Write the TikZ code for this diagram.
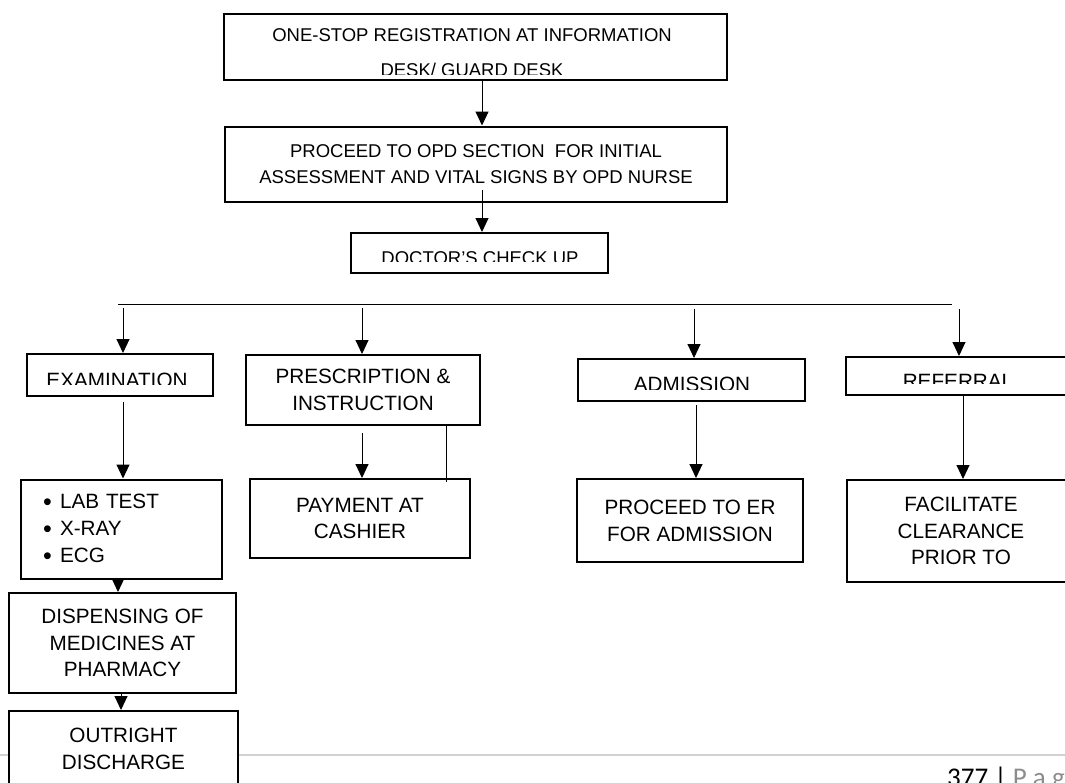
\documentclass[tikz,border=0pt]{standalone}
\usepackage{fontspec}
\setmainfont{Liberation Sans}
\newfontfamily\footfont{Carlito}
\usetikzlibrary{arrows.meta}
\begin{document}
\begin{tikzpicture}[x=1pt,y=-1pt,
  every node/.style={font=\fontsize{20.7}{26.8}\selectfont, inner sep=0pt},
  small/.style={font=\fontsize{18.5}{26}\selectfont},
  box/.style={draw, line width=2pt, fill=white, align=center},
  arr/.style={line width=1pt, -{Triangle[width=13pt,length=14pt]}},
  ln/.style={line width=1pt},
  clipped/.style={anchor=base}]
\useasboundingbox (0,0) rectangle (1065,782);
% footer rule
\coordinate (fl) at (0,755);
\coordinate (fr) at (1065,755);
\draw[black!18, line width=1.3pt] (fl) -- (fr);
\node[anchor=base west, font=\footfont\fontsize{27}{27}\selectfont] (pg) at (947,786) {377 | \textcolor{black!45}{P a g e}};

% boxes
\node[box, minimum width=503pt, minimum height=66pt] (b1) at (475.5,47) {};
\node[box, small, minimum width=502pt, minimum height=75pt] (b2) at (476,164)
  {PROCEED TO OPD SECTION\ \ FOR INITIAL\\ASSESSMENT AND VITAL SIGNS BY OPD NURSE};
\node[box, minimum width=257pt, minimum height=40pt] (doc) at (479.5,253) {};
\node[box, minimum width=186pt, minimum height=42pt] (exam) at (120,375) {};
\node[box, minimum width=234pt, minimum height=70pt] (presc) at (363,390)
  {PRESCRIPTION \&\\INSTRUCTION};
\node[box, minimum width=227pt, minimum height=42pt] (adm) at (691.5,380) {};
\node[box, minimum width=229pt, minimum height=38pt] (ref) at (960.5,376) {};
\node[box, minimum width=201pt, minimum height=99pt, text width=157pt, align=left, inner xsep=22pt] (lab) at (121.5,529)
  {\makebox[17pt][l]{\raisebox{-2.0pt}{\fontsize{25}{25}\selectfont •}}LAB TEST\\
   \makebox[17pt][l]{\raisebox{-2.0pt}{\fontsize{25}{25}\selectfont •}}X-RAY\\
   \makebox[17pt][l]{\raisebox{-2.0pt}{\fontsize{25}{25}\selectfont •}}ECG};
\node[box, minimum width=220pt, minimum height=79pt] (pay) at (360,518.5) {PAYMENT AT\\CASHIER};
\node[box, minimum width=226pt, minimum height=83pt] (er) at (690,520.5) {PROCEED TO ER\\FOR ADMISSION};
\node[box, minimum width=228pt, minimum height=102pt] (fac) at (961,531) {FACILITATE\\CLEARANCE\\PRIOR TO};
\node[box, minimum width=227pt, minimum height=100pt] (disp) at (122.5,643) {DISPENSING OF\\MEDICINES AT\\PHARMACY};
\node[box, minimum width=229pt, minimum height=75pt] (out) at (123.5,748.5) {OUTRIGHT\\DISCHARGE};

% clipped texts
\begin{scope}
  \clip (224,14) rectangle (727,74);
  \node[anchor=north, align=center, font=\fontsize{18.5}{35}\selectfont] (t1) at (472,28.5)
    {ONE-STOP REGISTRATION AT INFORMATION\\DESK/ GUARD DESK};
\end{scope}
\begin{scope}
  \clip (351,233) rectangle (608,261.5);
  \node[clipped, small] (tdoc) at (480,264.5) {DOCTOR’S CHECK UP};
\end{scope}
\begin{scope}
  \clip (27,354) rectangle (213,384.5);
  \node[clipped] (texam) at (117,387.5) {EXAMINATION};
\end{scope}
\begin{scope}
  \clip (578,359) rectangle (805,389);
  \node[clipped] (tadm) at (692,391.5) {ADMISSION};
\end{scope}
\begin{scope}
  \clip (846,357) rectangle (1075,383);
  \node[clipped] (tref) at (958,388) {REFERRAL};
\end{scope}

% connectors
\coordinate (s1) at (482,80);
\draw[arr] (s1) -- (s1 |- b2.north);
\coordinate (s2) at (482,190);
\draw[arr] (s2) -- (s2 |- doc.north);
\coordinate (hl) at (118,304);
\coordinate (hr) at (952,304);
\draw[ln] (hl) -- (hr);
\coordinate (s3) at (123,308);
\draw[arr] (s3) -- (s3 |- exam.north);
\coordinate (s4) at (362,308);
\draw[arr] (s4) -- (s4 |- presc.north);
\coordinate (s5) at (694,309);
\draw[arr] (s5) -- (s5 |- adm.north);
\coordinate (s6) at (959,309);
\draw[arr] (s6) -- (s6 |- ref.north);
\coordinate (s7) at (123,402);
\draw[arr] (s7) -- (s7 |- lab.north);
\coordinate (s8) at (362,433);
\draw[arr] (s8) -- (s8 |- pay.north);
\coordinate (s9) at (446,482);
\draw[ln] (presc.south -| s9) -- (s9);
\coordinate (s10) at (696,405);
\draw[arr] (s10) -- (s10 |- er.north);
\coordinate (s11) at (963,396);
\draw[arr] (ref.south -| s11) -- (s11 |- fac.north);
\coordinate (s12) at (118,578);
\draw[arr] (lab.south -| s12) -- (s12 |- disp.north);
\coordinate (s13) at (121,693);
\draw[arr] (disp.south -| s13) -- (s13 |- out.north);
\end{tikzpicture}
\end{document}
